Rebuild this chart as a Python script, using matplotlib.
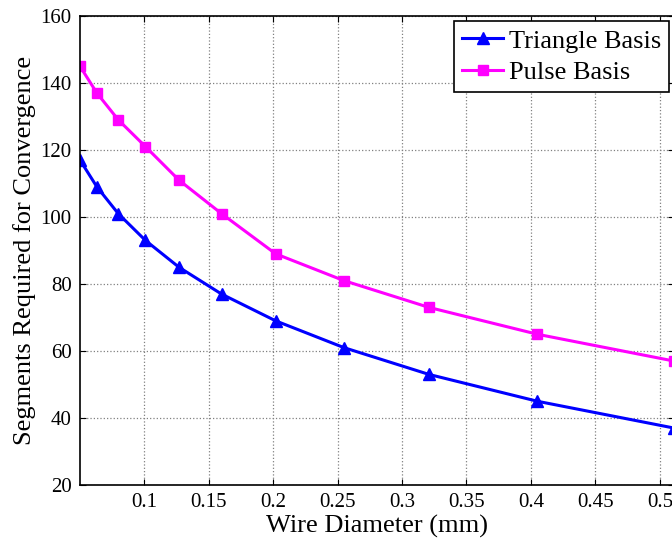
import matplotlib.pyplot as plt

# wire diameters (AWG 44 .. AWG 24), in mm
diameter = [0.0502, 0.0633, 0.0799, 0.101, 0.127, 0.160, 0.202, 0.255, 0.321, 0.405, 0.511]
triangle_segs = [117, 109, 101, 93, 85, 77, 69, 61, 53, 45, 37]
pulse_segs = [145, 137, 129, 121, 111, 101, 89, 81, 73, 65, 57]

x_ticks = [0.1, 0.15, 0.2, 0.25, 0.3, 0.35, 0.4, 0.45, 0.5]
x_ticklabels = ['0.1', '0.15', '0.2', '0.25', '0.3', '0.35', '0.4', '0.45', '0.5']
y_ticks = [20, 40, 60, 80, 100, 120, 140, 160]

plt.rcParams['font.family'] = ['Liberation Serif', 'DejaVu Serif']

fig = plt.figure(figsize=(6.72, 5.44), dpi=100)
ax = fig.add_axes([80 / 672, 59 / 544, 594 / 672, 469 / 544])

ax.plot(diameter, triangle_segs, color='#0000ff', lw=2.2, marker='^', ms=8,
        label='Triangle Basis')
ax.plot(diameter, pulse_segs, color='#ff00ff', lw=2.2, marker='s', ms=7,
        label='Pulse Basis')

ax.set_xlim(0.0502, 0.511)
ax.set_ylim(20, 160)
ax.set_xticks(x_ticks)
ax.set_xticklabels(x_ticklabels)
ax.set_yticks(y_ticks)
ax.tick_params(direction='in', top=True, right=True, labelsize=15, length=4, pad=6)
ax.grid(True, color='#808080', linestyle=':', linewidth=0.9)
for s in ax.spines.values():
    s.set_linewidth(1.2)

ax.set_xlabel('Wire Diameter (mm)', fontsize=19, labelpad=2)
ax.set_ylabel('Segments Required for Convergence', fontsize=19, labelpad=3)

leg = ax.legend(loc='upper right', fontsize=19, fancybox=False, framealpha=1,
                edgecolor='black', handlelength=1.55, handletextpad=0.2,
                borderpad=0.3, labelspacing=0.3, borderaxespad=0.2)
leg.get_frame().set_linewidth(1.2)

fig.savefig('out.png', dpi=100)
